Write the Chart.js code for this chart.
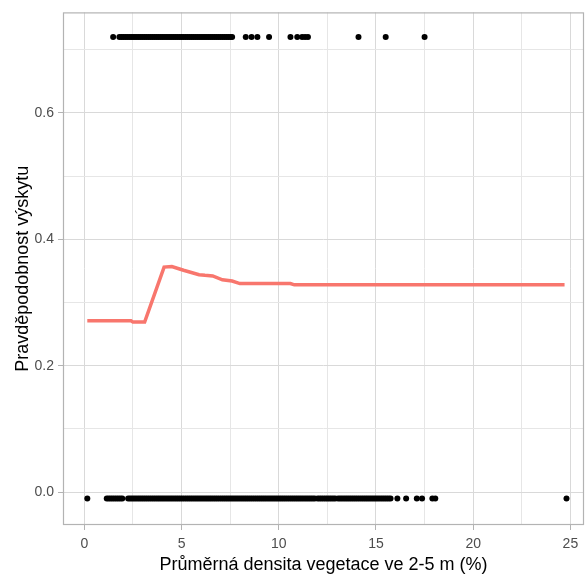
<!DOCTYPE html>
<html>
<head>
<meta charset="utf-8">
<script src="https://cdn.jsdelivr.net/npm/chart.js@4"></script>
<style>
  html, body { margin: 0; padding: 0; background: #fff; }
  #wrap { width: 588px; height: 576px; }
</style>
</head>
<body>
<div id="wrap"><canvas id="chart" width="588" height="576"></canvas></div>
<script>
// observed presences (drawn at top) and absences (drawn at bottom)
const presenceLevel = 0.72;
const presenceX = [1.48,
  1.8, 1.9, 2.0, 2.1, 2.2, 2.3, 2.4, 2.5, 2.6, 2.7, 2.8, 2.9, 3.0, 3.1, 3.2, 3.3, 3.4, 3.5,
  3.6, 3.7, 3.8, 3.9, 4.0, 4.1, 4.2, 4.3, 4.4, 4.5, 4.6, 4.7, 4.8, 4.9, 5.0, 5.1, 5.2, 5.3,
  5.4, 5.5, 5.6, 5.7, 5.8, 5.9, 6.0, 6.1, 6.2, 6.3, 6.4, 6.5, 6.6, 6.7, 6.8, 6.9, 7.0, 7.1,
  7.2, 7.3, 7.4, 7.5, 7.6,
  8.3, 8.6, 8.9, 9.5, 10.6, 10.95, 11.2, 11.35, 11.5, 14.1, 15.5, 17.5];

const absenceLevel = -0.01;
const absenceX = [0.15,
  1.15, 1.25, 1.35, 1.45, 1.55, 1.65, 1.75, 1.85, 1.95,
  2.25, 2.35, 2.45, 2.55, 2.65, 2.75, 2.85, 2.95, 3.05, 3.15, 3.25, 3.35, 3.45, 3.55, 3.65,
  3.75, 3.85, 3.95, 4.05, 4.15, 4.25, 4.35, 4.45, 4.55, 4.65, 4.75, 4.85, 4.95, 5.05, 5.15,
  5.25, 5.35, 5.45, 5.55, 5.65, 5.75, 5.85, 5.95, 6.05, 6.15, 6.25, 6.35, 6.45, 6.55, 6.65,
  6.75, 6.85, 6.95, 7.05, 7.15, 7.25, 7.35, 7.45, 7.55, 7.65, 7.75, 7.85, 7.95, 8.05, 8.15,
  8.25, 8.35, 8.45, 8.55, 8.65, 8.75, 8.85, 8.95, 9.05, 9.15, 9.25, 9.35, 9.45, 9.55, 9.65,
  9.75, 9.85, 9.95, 10.05, 10.15, 10.25, 10.35, 10.45, 10.55, 10.65, 10.75, 10.85, 10.95,
  11.05, 11.15, 11.25, 11.35, 11.45, 11.55, 11.65, 11.75, 11.85, 12.0, 12.1, 12.2, 12.3,
  12.4, 12.5, 12.6, 12.7, 12.8, 12.9, 13.05, 13.15, 13.25, 13.35, 13.45, 13.55, 13.65, 13.75,
  13.85, 13.95, 14.05, 14.15, 14.25, 14.35, 14.45, 14.55, 14.65, 14.75, 14.85, 14.95, 15.05,
  15.15, 15.25, 15.35, 15.45, 15.55, 15.65, 15.75,
  16.1, 16.55, 17.1, 17.37, 17.9, 18.05, 24.8];

// predicted probability curve
const curveX = [0.15, 2.4, 2.5, 3.1, 4.1, 4.5, 5.1, 5.9, 6.2, 6.6, 7.1, 7.6, 8.0, 10.6, 10.8, 24.7];
const curveY = [0.271, 0.271, 0.269, 0.269, 0.356, 0.357, 0.351, 0.344, 0.343, 0.342, 0.336, 0.334, 0.330, 0.330, 0.328, 0.328];

// axis ticks (labels only on the major ones)
const xTicks = [0, 2.5, 5, 7.5, 10, 12.5, 15, 17.5, 20, 22.5, 25];
const xLabels = ['0', '', '5', '', '10', '', '15', '', '20', '', '25'];
const yTicks = [0, 0.1, 0.2, 0.3, 0.4, 0.5, 0.6, 0.7];
const yLabels = ['0.0', '', '0.2', '', '0.4', '', '0.6', ''];

const fontFam = '"Liberation Sans", Arial, sans-serif';

function isMajor(labels, ctx) {
    return ctx.tick && labels[ctx.index] !== '';
}

// grey frame round the panel, like theme_light
const panelBorder = {
    id: 'panelBorder',
    afterDraw(chart) {
        const a = chart.chartArea;
        const c = chart.ctx;
        c.save();
        c.strokeStyle = '#b3b3b3';
        c.lineWidth = 1.2;
        c.strokeRect(a.left + 0.5, a.top + 0.5, a.right - a.left - 1, a.bottom - a.top - 1);
        c.restore();
    }
};

const getChart = document.getElementById('chart').getContext('2d');
const myChart = new Chart(getChart, {
    type: 'scatter',
    data: {
        datasets: [{
            data: presenceX.map(x => ({ x: x, y: presenceLevel })),
            backgroundColor: '#000',
            borderWidth: 0,
            pointRadius: 3
        }, {
            data: absenceX.map(x => ({ x: x, y: absenceLevel })),
            backgroundColor: '#000',
            borderWidth: 0,
            pointRadius: 3
        }, {
            type: 'line',
            data: curveX.map((x, i) => ({ x: x, y: curveY[i] })),
            borderColor: '#F8766D',
            borderWidth: 3.5,
            pointRadius: 0,
            tension: 0,
            fill: false
        }]
    },
    options: {
        responsive: false,
        animation: false,
        layout: { padding: { top: 10, right: 2, left: 0, bottom: 0 } },
        plugins: {
            legend: { display: false },
            tooltip: { enabled: false }
        },
        scales: {
            x: {
                type: 'linear',
                min: -1.1,
                max: 25.7,
                afterFit: (s) => { s.height = 51; },
                afterBuildTicks: (s) => { s.ticks = xTicks.map(v => ({ value: v })); },
                border: { display: false },
                grid: {
                    color: (ctx) => isMajor(xLabels, ctx) ? '#d9d9d9' : '#e6e6e6',
                    lineWidth: 1,
                    tickColor: (ctx) => isMajor(xLabels, ctx) ? '#b3b3b3' : 'rgba(0,0,0,0)',
                    tickLength: 5
                },
                ticks: {
                    autoSkip: false,
                    maxRotation: 0,
                    padding: 6,
                    color: '#4d4d4d',
                    font: { family: fontFam, size: 14 },
                    callback: (v, i) => xLabels[i]
                },
                title: {
                    display: true,
                    text: 'Průměrná densita vegetace ve 2-5 m (%)',
                    color: '#000',
                    font: { family: fontFam, size: 18 },
                    padding: { top: 0, bottom: 0.5 }
                }
            },
            y: {
                type: 'linear',
                min: -0.052,
                max: 0.759,
                afterFit: (s) => { s.width = 63; },
                afterBuildTicks: (s) => { s.ticks = yTicks.map(v => ({ value: v })); },
                border: { display: false },
                grid: {
                    color: (ctx) => isMajor(yLabels, ctx) ? '#d9d9d9' : '#e6e6e6',
                    lineWidth: 1,
                    tickColor: (ctx) => isMajor(yLabels, ctx) ? '#b3b3b3' : 'rgba(0,0,0,0)',
                    tickLength: 5
                },
                ticks: {
                    autoSkip: false,
                    padding: 4,
                    color: '#4d4d4d',
                    font: { family: fontFam, size: 14 },
                    callback: (v, i) => yLabels[i]
                },
                title: {
                    display: true,
                    text: 'Pravděpodobnost výskytu',
                    color: '#000',
                    font: { family: fontFam, size: 18 },
                    padding: { top: 12, bottom: 0 }
                }
            }
        }
    },
    plugins: [panelBorder]
});
</script>
</body>
</html>
